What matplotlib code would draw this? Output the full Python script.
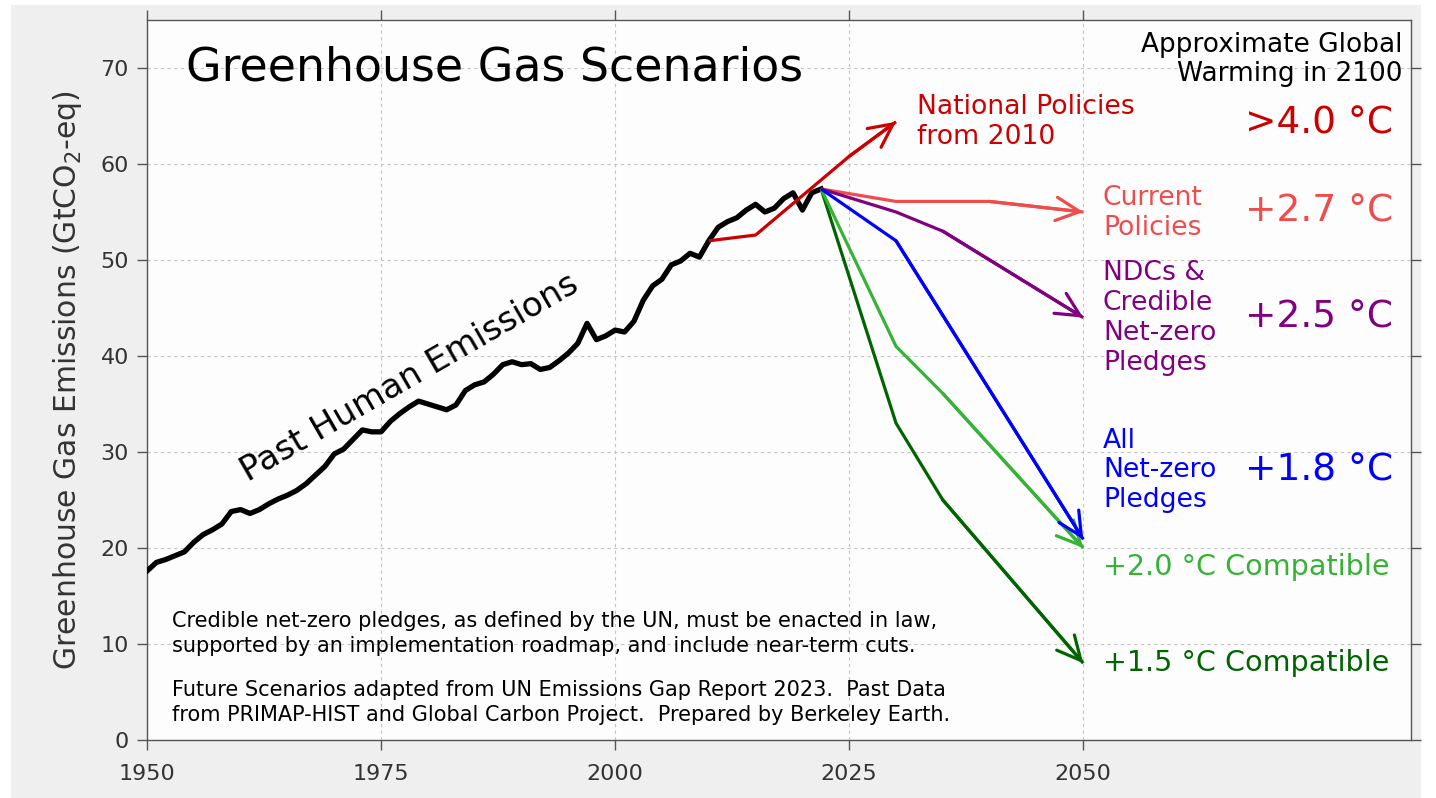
import matplotlib
matplotlib.use("Agg")
import matplotlib.pyplot as plt
from matplotlib.patches import Rectangle

# ---------------- data ----------------
past_years = list(range(1950, 2023))
past_values = [17.6, 18.5, 18.8, 19.2, 19.6, 20.6, 21.4, 21.9, 22.5, 23.8,
               24.0, 23.6, 24.0, 24.6, 25.1, 25.5, 26.0, 26.7, 27.6, 28.5,
               29.8, 30.3, 31.3, 32.3, 32.1, 32.1, 33.2, 34.0, 34.7, 35.3,
               35.0, 34.7, 34.4, 34.9, 36.4, 37.0, 37.3, 38.1, 39.1, 39.4,
               39.1, 39.2, 38.6, 38.8, 39.5, 40.3, 41.3, 43.4, 41.7, 42.1,
               42.7, 42.5, 43.6, 45.8, 47.3, 48.0, 49.5, 49.9, 50.7, 50.3,
               52.0, 53.4, 54.0, 54.4, 55.2, 55.8, 55.0, 55.4, 56.4, 57.0,
               55.2, 57.0, 57.4]

natpol_years = [2010, 2015, 2025, 2030]
natpol_values = [52.0, 52.6, 60.8, 64.4]

curpol_years = [2022, 2030, 2040, 2050]
curpol_values = [57.4, 56.1, 56.1, 55.0]

ndc_years = [2022, 2030, 2035, 2050]
ndc_values = [57.4, 55.0, 53.0, 44.0]

netzero_years = [2022, 2030, 2050]
netzero_values = [57.4, 52.0, 20.9]

c20_years = [2022, 2030, 2035, 2050]
c20_values = [57.4, 41.0, 36.1, 20.0]

c15_years = [2022, 2030, 2035, 2050]
c15_values = [57.4, 33.0, 25.0, 8.0]

xticks = [1950, 1975, 2000, 2025, 2050]
xtick_labels = ["1950", "1975", "2000", "2025", "2050"]
yticks = [0, 10, 20, 30, 40, 50, 60, 70]

# ---------------- styling ----------------
C_NAT = "#cc0000"
C_CUR = "#f04c4c"
C_NDC = "#800080"
C_NZ = "#0000ff"
C_20 = "#36b336"
C_15 = "#006400"
C_TICK = "#333333"
C_SPINE = "#555555"

plt.rcParams["font.family"] = ["DejaVu Sans"]

W, H = 1436, 798
fig = plt.figure(figsize=(W / 100, H / 100), dpi=100, facecolor="white")
fig.patches.append(Rectangle((11 / W, 0), (1421 - 11) / W, (793) / H,
                             transform=fig.transFigure, facecolor="#efefef",
                             edgecolor="none", zorder=-10))

ax = fig.add_axes([147 / W, (H - 740) / H, (1411 - 147) / W, (740 - 20) / H])
ax.set_facecolor("#fdfdfd")
ax.set_xlim(1950, 2085)
ax.set_ylim(0, 75)

ax.set_xticks(xticks)
ax.set_xticklabels(xtick_labels)
ax.set_yticks(yticks)
ax.tick_params(axis="both", direction="out", length=7, width=1.0, color=C_SPINE,
               labelsize=16, labelcolor=C_TICK, top=True, right=True)
ax.tick_params(axis="x", pad=10)
ax.tick_params(axis="y", pad=6)
for s in ax.spines.values():
    s.set_color(C_SPINE)
    s.set_linewidth(1.0)
ax.grid(True, color="#c4c4c4", linestyle=(0, (3, 3)), linewidth=0.8)
ax.set_axisbelow(True)

ax.set_ylabel("Greenhouse Gas Emissions (GtCO$_2$-eq)", fontsize=21.5,
              color=C_TICK, labelpad=12)

# past emissions
ax.plot(past_years, past_values, color="black", lw=3.8, solid_joinstyle="round",
        zorder=3)


def scenario(xs, ys, color):
    ax.plot(xs, ys, color=color, lw=2.3, zorder=4, solid_capstyle="butt")
    ax.annotate("", xy=(xs[-1], ys[-1]), xytext=(xs[-2], ys[-2]),
                arrowprops=dict(arrowstyle="->,head_length=0.85,head_width=0.42",
                                color=color, lw=2.3, shrinkA=0, shrinkB=0,
                                mutation_scale=20),
                zorder=4)


scenario(natpol_years, natpol_values, C_NAT)
scenario(curpol_years, curpol_values, C_CUR)
scenario(ndc_years, ndc_values, C_NDC)
scenario(c15_years, c15_values, C_15)
scenario(c20_years, c20_values, C_20)
scenario(netzero_years, netzero_values, C_NZ)

# title & annotations
ax.text(1954.2, 70.0, "Greenhouse Gas Scenarios", fontsize=33, ha="left",
        va="center", color="black")
ax.text(1978.0, 37.7, "Past Human Emissions", fontsize=24.5, rotation=30,
        rotation_mode="anchor", ha="center", va="center", color="black")

ax.text(2084.1, 70.9, "Approximate Global\nWarming in 2100", fontsize=19,
        ha="right", va="center", color="black", linespacing=1.15)

LS = 1.18
ax.text(2032.2, 64.4, "National Policies\nfrom 2010", fontsize=19.2, ha="left",
        va="center", color=C_NAT, linespacing=LS)
ax.text(2052.1, 54.9, "Current\nPolicies", fontsize=19.2, ha="left",
        va="center", color=C_CUR, linespacing=LS)
ax.text(2052.1, 44.0, "NDCs &\nCredible\nNet-zero\nPledges", fontsize=19.2,
        ha="left", va="center", color=C_NDC, linespacing=1.2)
ax.text(2052.1, 28.1, "All\nNet-zero\nPledges", fontsize=19.2, ha="left",
        va="center", color=C_NZ, linespacing=LS)
ax.text(2052.1, 18.0, "+2.0 °C Compatible", fontsize=20.6, ha="left",
        va="center", color=C_20)
ax.text(2052.1, 8.0, "+1.5 °C Compatible", fontsize=20.6, ha="left",
        va="center", color=C_15)

ax.text(2083.1, 64.2, ">4.0 °C", fontsize=27, ha="right", va="center", color=C_NAT)
ax.text(2083.1, 55.0, "+2.7 °C", fontsize=27, ha="right", va="center", color=C_CUR)
ax.text(2083.1, 44.0, "+2.5 °C", fontsize=27, ha="right", va="center", color=C_NDC)
ax.text(2083.1, 28.1, "+1.8 °C", fontsize=27, ha="right", va="center", color=C_NZ)

ax.text(1952.7, 11.1,
        "Credible net-zero pledges, as defined by the UN, must be enacted in law,\n"
        "supported by an implementation roadmap, and include near-term cuts.",
        fontsize=15.0, ha="left", va="center", color="black", linespacing=1.26)
ax.text(1952.7, 3.9,
        "Future Scenarios adapted from UN Emissions Gap Report 2023.  Past Data\n"
        "from PRIMAP-HIST and Global Carbon Project.  Prepared by Berkeley Earth.",
        fontsize=15.0, ha="left", va="center", color="black", linespacing=1.26)

fig.savefig("out.png", dpi=100, facecolor=fig.get_facecolor())
